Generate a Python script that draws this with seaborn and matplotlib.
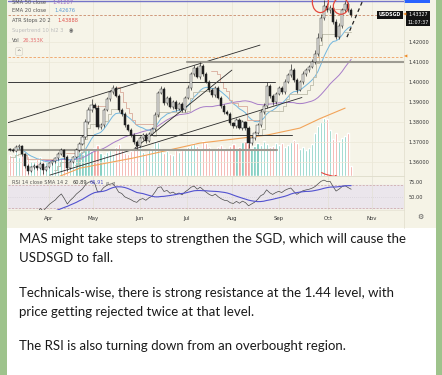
import matplotlib
matplotlib.use("Agg")
import matplotlib.pyplot as plt
from matplotlib.patches import Ellipse, Rectangle
from matplotlib.lines import Line2D
import numpy as np
import pandas as pd
import seaborn as sns

W, H = 442, 375

# daily USDSGD candles (one entry per bar)
first_open = 1.3665
closes = [
    1.3660, 1.3655, 1.3672, 1.3678, 1.3640, 1.3580, 1.3555, 1.3572, 1.3580, 1.3568,
    1.3590, 1.3560, 1.3575, 1.3592, 1.3605, 1.3618, 1.3640, 1.3660, 1.3625, 1.3570,
    1.3600, 1.3625, 1.3660, 1.3690, 1.3725, 1.3800, 1.3860, 1.3885, 1.3870, 1.3775,
    1.3785, 1.3860, 1.3915, 1.3950, 1.3970, 1.3930, 1.3860, 1.3840, 1.3785, 1.3760,
    1.3735, 1.3700, 1.3680, 1.3720, 1.3735, 1.3705, 1.3740, 1.3765, 1.3835, 1.3945,
    1.3965, 1.3895, 1.3920, 1.3875, 1.3900, 1.3865, 1.3890, 1.3860, 1.3920, 1.3970,
    1.4040, 1.4070, 1.4025, 1.4080, 1.4040, 1.4000, 1.3960, 1.3935, 1.3970, 1.3920,
    1.3880, 1.3850, 1.3840, 1.3795, 1.3780, 1.3810, 1.3770, 1.3800, 1.3770, 1.3695,
    1.3720, 1.3745, 1.3785, 1.3850, 1.3880, 1.3980, 1.3930, 1.3900, 1.3940, 1.3970,
    1.3950, 1.4000, 1.4035, 1.4060, 1.4010, 1.3960, 1.4000, 1.4040, 1.4060, 1.4075,
    1.4100, 1.4140, 1.4220, 1.4320, 1.4380, 1.4360, 1.4370, 1.4300, 1.4225, 1.4280,
    1.4360, 1.4390, 1.4360, 1.4333,
]
# wick lengths in pips above / below the body
upper_wick = [
    6, 8, 12, 10, 6, 5, 8, 6, 7, 5, 9, 6, 5, 8, 6, 7, 9, 10, 6, 8,
    7, 6, 9, 8, 10, 12, 15, 30, 10, 12, 8, 10, 9, 8, 15, 10, 8, 9, 7, 6,
    8, 7, 9, 10, 8, 7, 9, 8, 12, 10, 15, 9, 10, 8, 9, 7, 8, 10, 9, 12,
    10, 15, 9, 20, 8, 10, 9, 7, 10, 8, 9, 7, 8, 10, 6, 9, 8, 7, 6, 8,
    9, 7, 10, 12, 15, 18, 10, 9, 8, 10, 9, 12, 10, 30, 9, 10, 8, 12, 10, 9,
    15, 20, 25, 20, 30, 15, 12, 10, 15, 12, 10, 15, 10, 8,
]
lower_wick = [
    8, 6, 7, 9, 10, 12, 15, 8, 7, 10, 6, 20, 8, 7, 6, 9, 8, 7, 10, 15,
    8, 7, 6, 9, 8, 10, 12, 9, 8, 10, 12, 9, 8, 10, 9, 8, 10, 9, 12, 8,
    10, 9, 18, 8, 10, 9, 8, 7, 10, 9, 8, 10, 9, 8, 10, 9, 8, 12, 9, 8,
    10, 9, 8, 10, 9, 8, 10, 12, 9, 8, 10, 9, 8, 12, 10, 9, 8, 10, 9, 28,
    10, 9, 8, 10, 12, 9, 10, 15, 9, 8, 10, 9, 8, 10, 9, 15, 8, 9, 10, 9,
    8, 10, 12, 15, 12, 10, 15, 12, 10, 12, 10, 9, 12, 10,
]
volume_k = [
    55, 48, 62, 50, 58, 45, 52, 40, 38, 45, 50, 42, 36,
    40, 44, 48, 52, 46, 58, 50, 45, 55, 60, 62, 58, 66, 70, 64,
    72, 80, 60, 55, 62, 68, 58, 74, 82, 66, 60, 58, 64, 70, 85, 76,
    62, 58, 66, 72, 90, 88, 70, 60, 64, 58, 55, 68, 62, 66, 70,
    74, 80, 86, 78, 72, 90, 84, 76, 70, 66, 74, 80, 72, 68, 78,
    82, 70, 76, 88, 90, 86, 72, 78, 84, 80, 90, 82, 74, 78, 86, 80,
    84, 76, 80, 88, 92, 84, 70, 74, 66, 72, 82, 110,
    130, 140, 150, 146, 120, 96, 110, 90, 98, 104, 112, 26,
]

month_labels = ["Apr", "May", "Jun", "Jul", "Aug", "Sep", "Oct", "Nov"]
month_pos = [12.9, 27.5, 43.0, 58.6, 73.5, 89.1, 105.3, 119.9]
price_ticks = [1.36, 1.37, 1.38, 1.39, 1.40, 1.41, 1.42]
rsi_ticks = [75, 50]

# 200-day SMA as read at a few bars
sma200_idx = [16.6, 23.2, 40.7, 62.9, 85.1, 96.0, 102.6, 111.0]
sma200_val = [1.3528, 1.3568, 1.3618, 1.3693, 1.3733, 1.3768, 1.3815, 1.3868]

# drawn trend lines: (bar0, price0, bar1, price1)
trend_lines = [
    (-0.7, 1.3795, 82.8, 1.4183),
    (13.2, 1.3533, 96.7, 1.3921),
    (41.4, 1.3668, 73.5, 1.4058),
]
thin_levels = [(1.4000, -0.7, 87.7), (1.3733, -0.7, 93.4)]
zone_levels = [(1.3658, -0.7, 88.4), (1.4100, 58.6, 131.0)]
projection = (111.6, 1.4223, 118.0, 1.4446)
top_marks = [(102.8, 1.4398), (109.6, 1.4378)]

last_price = 1.43327
alert_price = 1.4122
top_price = 1.4404

legend_rows = [
    ("SMA 50 close", "1.41287", "#9c6fc2"),
    ("EMA 20 close", "1.42676", "#5b9bd5"),
    ("ATR Stops 20 2", "1.43888", "#e0504a"),
    ("Vol", "26.353K", "#e57373"),
]
message = [
    "MAS might take steps to strengthen the SGD, which will cause the",
    "USDSGD to fall.",
    "",
    "Technicals-wise, there is strong resistance at the 1.44 level, with",
    "price getting rejected twice at that level.",
    "",
    "The RSI is also turning down from an overbought region.",
]

sns.set_theme(style="white")
plt.rcParams["font.family"] = ["DejaVu Sans"]

c = np.array(closes)
o = np.r_[first_open, c[:-1]]
h = np.maximum(o, c) + np.array(upper_wick) / 1e4
l = np.minimum(o, c) - np.array(lower_wick) / 1e4
n = len(c)
x = np.arange(n)
rising = c >= o

s = pd.Series(c)
ema20 = s.ewm(span=14, adjust=False).mean()
sma50 = s.rolling(32, min_periods=12).mean()

prev_c = np.r_[o[0], c[:-1]]
tr = np.maximum.reduce([h - l, np.abs(h - prev_c), np.abs(l - prev_c)])
atr = pd.Series(tr).ewm(alpha=1 / 14, adjust=False).mean().values
stop = np.empty(n)
stop[0] = c[0] - 2 * atr[0]
for i in range(1, n):
    p = stop[i - 1]
    if c[i] > p and c[i - 1] > p:
        stop[i] = max(p, c[i] - 2 * atr[i])
    elif c[i] < p and c[i - 1] < p:
        stop[i] = min(p, c[i] + 2 * atr[i])
    elif c[i] > p:
        stop[i] = c[i] - 2 * atr[i]
    else:
        stop[i] = c[i] + 2 * atr[i]

delta = s.diff()
gain = delta.clip(lower=0).ewm(alpha=1 / 14, adjust=False).mean()
loss = (-delta.clip(upper=0)).ewm(alpha=1 / 14, adjust=False).mean()
rsi = 100 - 100 / (1 + gain / loss)
rsi_ma = rsi.rolling(14, min_periods=1).mean()


def fx(px):
    return px / W


def fy(py):
    return 1 - py / H


fig = plt.figure(figsize=(W / 100, H / 100), dpi=100)
fig.patch.set_facecolor("#9ec38c")
fig.add_artist(Rectangle((fx(7), 0), fx(436) - fx(7), 1, transform=fig.transFigure,
                         facecolor="white", edgecolor="none", zorder=0))
fig.add_artist(Rectangle((fx(7), fy(228)), fx(436) - fx(7), 228 / H, transform=fig.transFigure,
                         facecolor="#f5f3e6", edgecolor="none", zorder=0))

rect = [fx(8), fy(176), fx(404) - fx(8), 176 / H]
ax_vol = fig.add_axes(rect)
ax = fig.add_axes(rect, sharex=ax_vol)
ax_rsi = fig.add_axes([fx(8), fy(210), fx(404) - fx(8), 34 / H], sharex=ax_vol)
xlim = (-0.66, 130.5)

# volume pane underneath the price pane
ax_vol.set_facecolor("#f6f4e8")
ax_vol.bar(x, volume_k, width=0.72, color=np.where(rising, "#6cc6b6", "#f0918b"), zorder=2)
ax_vol.set_ylim(0, max(volume_k) / 0.33)
ax_vol.set_xlim(*xlim)
for mp in month_pos:
    ax_vol.axvline(mp, color="#e8e5d4", lw=0.5, zorder=1)
ax_vol.set_yticks([])
for sp in ax_vol.spines.values():
    sp.set_visible(False)
ax_vol.tick_params(axis="x", length=0, labelbottom=False)

# price pane
ax.patch.set_alpha(0)
ax.set_ylim(1.35285, 1.44085)
for pt in price_ticks:
    ax.axhline(pt, color="#ebe8d8", lw=0.5, zorder=0)
sns.lineplot(x=sma200_idx, y=sma200_val, ax=ax, color="#f2a45a", lw=0.8, zorder=3)
sns.lineplot(x=x, y=sma50.values, ax=ax, color="#a77cc9", lw=0.7, zorder=3)
sns.lineplot(x=x, y=ema20.values, ax=ax, color="#72b6de", lw=0.7, zorder=3)
stop_hi = np.where(stop > c, stop, np.nan)
stop_lo = np.where(stop <= c, stop, np.nan)
ax.plot(x, stop_hi, drawstyle="steps-mid", color="#d9ab9b", lw=0.6, zorder=3)
ax.plot(x, stop_lo, drawstyle="steps-mid", color="#bdbcaa", lw=0.6, zorder=3)

for x0, y0, x1, y1 in trend_lines:
    ax.plot([x0, x1], [y0, y1], color="#2a2a2a", lw=0.6, zorder=4)
for lvl, x0, x1 in thin_levels:
    ax.plot([x0, x1], [lvl, lvl], color="#3a3a3a", lw=0.7, zorder=4)
for lvl, x0, x1 in zone_levels:
    ax.plot([x0, x1], [lvl, lvl], color="#9d9b92", lw=1.5, zorder=4)
ax.axhline(alert_price, color="#f0a060", lw=0.6, ls=(0, (3, 2)), zorder=4)
ax.axhline(last_price, color="#c98a6a", lw=0.6, ls=(0, (3, 2)), zorder=4)
ax.axhline(top_price, color="#7474c8", lw=1.0, zorder=4)
ax.plot([projection[0], projection[2]], [projection[1], projection[3]],
        color="#222222", lw=0.9, ls=(0, (3, 2.5)), zorder=4)

body_lo = np.minimum(o, c)
body_h = np.maximum(np.abs(c - o), 0.00015)
ax.vlines(x, l, h, color="#2b2b2b", lw=0.5, zorder=5)
ax.bar(x[rising], body_h[rising], bottom=body_lo[rising], width=0.72,
       facecolor="#f4f4f0", edgecolor="#2b2b2b", linewidth=0.35, zorder=6)
ax.bar(x[~rising], body_h[~rising], bottom=body_lo[~rising], width=0.72,
       facecolor="#1f1f1f", edgecolor="#1f1f1f", linewidth=0.35, zorder=6)

for (cx, cy), (ew, eh) in zip(top_marks, [(5.3, 0.0105), (5.0, 0.0082)]):
    ax.add_patch(Ellipse((cx, cy), ew, eh, fill=False, edgecolor="#e5483d", lw=0.9, zorder=7))
ax.annotate("", xy=(109.8, 1.3526), xytext=(102.4, 1.3552), annotation_clip=False,
            arrowprops=dict(arrowstyle="-|>", color="#e5483d", lw=0.8, mutation_scale=4,
                            connectionstyle="arc3,rad=0.15"), zorder=7)

ax.set_xlim(*xlim)
ax.yaxis.tick_right()
ax.set_yticks(price_ticks)
ax.set_yticklabels([f"{v:.5f}" for v in price_ticks])
ax.tick_params(axis="y", length=0, pad=3, labelsize=3.6, colors="#333333")
ax.tick_params(axis="x", length=0, labelbottom=False)
ax.set_xlabel("")
ax.set_ylabel("")
for sp in ax.spines.values():
    sp.set_visible(False)

# RSI pane
ax_rsi.set_facecolor("#f6f4e8")
ax_rsi.set_ylim(26.9, 85.9)
ax_rsi.axhspan(30, 70, color="#ebe6ec", zorder=0)
for mp in month_pos:
    ax_rsi.axvline(mp, color="#e3e0d4", lw=0.5, zorder=1)
ax_rsi.axhline(70, color="#c9a2a2", lw=0.5, ls=(0, (3, 2)), zorder=2)
ax_rsi.axhline(30, color="#c9a2a2", lw=0.5, ls=(0, (3, 2)), zorder=2)
ax_rsi.axhline(50, color="#cfcad2", lw=0.5, ls=(0, (1, 2)), zorder=2)
sns.lineplot(x=x, y=rsi.values, ax=ax_rsi, color="#4a4a4a", lw=0.5, zorder=3)
sns.lineplot(x=x, y=rsi_ma.values, ax=ax_rsi, color="#5252d0", lw=0.8, zorder=4)
ax_rsi.set_xlim(*xlim)
ax_rsi.set_xticks(month_pos)
ax_rsi.set_xticklabels(month_labels)
ax_rsi.tick_params(axis="x", length=0, pad=4, labelsize=3.9, colors="#333333")
ax_rsi.yaxis.tick_right()
ax_rsi.set_yticks(rsi_ticks)
ax_rsi.set_yticklabels([f"{v:.2f}" for v in rsi_ticks])
ax_rsi.tick_params(axis="y", length=0, pad=3, labelsize=3.6, colors="#333333")
ax_rsi.set_xlabel("")
ax_rsi.set_ylabel("")
for sp in ax_rsi.spines.values():
    sp.set_visible(False)
ax_rsi.spines["top"].set_visible(True)
ax_rsi.spines["top"].set_color("#dedbca")
ax_rsi.spines["top"].set_linewidth(0.6)
ax_rsi.spines["bottom"].set_visible(True)
ax_rsi.spines["bottom"].set_color("#e4e1d2")
ax_rsi.spines["bottom"].set_linewidth(0.5)

fig.add_artist(Line2D([fx(404), fx(404)], [fy(228), 1], transform=fig.transFigure,
                      color="#e0ddcc", lw=0.5))

# overlay labels inside the chart
leg_y = [3, 11, 20.5, 41]
val_x = [52, 54, 57, 23]
for (name, val, col), yy, vx in zip(legend_rows, leg_y, val_x):
    fig.text(fx(12), fy(yy), name, fontsize=3.7, color="#555555", va="center")
    fig.text(fx(vx), fy(yy), val, fontsize=3.7, color=col, va="center")
fig.text(fx(12), fy(30.5), "Supertrend 10 hl2 3", fontsize=3.7, color="#bdbdbd", va="center")
fig.text(fx(69), fy(30.5), "◉", fontsize=3.7, color="#666666", va="center")
fig.text(fx(19), fy(51.5), "^", fontsize=3.8, color="#555555", va="center", ha="center",
         bbox=dict(boxstyle="round,pad=0.25", facecolor="#f6f4e8", edgecolor="#cfccc0", lw=0.4))

fig.text(fx(12), fy(183), "RSI 14 close SMA 14 2", fontsize=3.6, color="#555555", va="center")
fig.text(fx(73), fy(183), "60.89", fontsize=3.6, color="#333333", va="center")
fig.text(fx(90), fy(183), "66.91", fontsize=3.6, color="#4f4fd0", va="center")
fig.text(fx(106), fy(183), "ø  ø", fontsize=3.6, color="#777777", va="center")

fig.add_artist(Rectangle((fx(404), fy(3)), fx(430) - fx(404), 6 / H, transform=fig.transFigure,
                         facecolor="#2962ff", edgecolor="none"))
fig.text(fx(390), fy(15), "USDSGD", fontsize=3.4, color="white", weight="bold", ha="center",
         va="center", bbox=dict(boxstyle="square,pad=0.3", facecolor="#131313", edgecolor="none"))
fig.add_artist(Rectangle((fx(406), fy(26)), fx(430) - fx(406), 15 / H, transform=fig.transFigure,
                         facecolor="#131313", edgecolor="none"))
fig.text(fx(418), fy(14.5), f"{last_price:.5f}", fontsize=3.4, color="white", ha="center", va="center")
fig.text(fx(418), fy(22), "11:07:37", fontsize=3.4, color="white", ha="center", va="center")
fig.text(fx(405), fy(15), "◀", fontsize=3.2, color="#f08a24", ha="center", va="center")
fig.text(fx(406), fy(57), "◀", fontsize=3.2, color="#f08a24", ha="center", va="center")
fig.text(fx(420), fy(217), "⚙", fontsize=5, color="#555555", ha="center", va="center")

# message text under the chart
baselines = [243.3, 261.7, 279.9, 297.3, 315.5, 333.0, 350.3]
for line, yb in zip(message, baselines):
    if line:
        fig.text(fx(19.3), fy(yb), line, fontsize=9.5, color="#1b1b1b", va="baseline",
                 family=["Lato", "DejaVu Sans"])

fig.savefig("out.png", dpi=100, facecolor=fig.get_facecolor())
